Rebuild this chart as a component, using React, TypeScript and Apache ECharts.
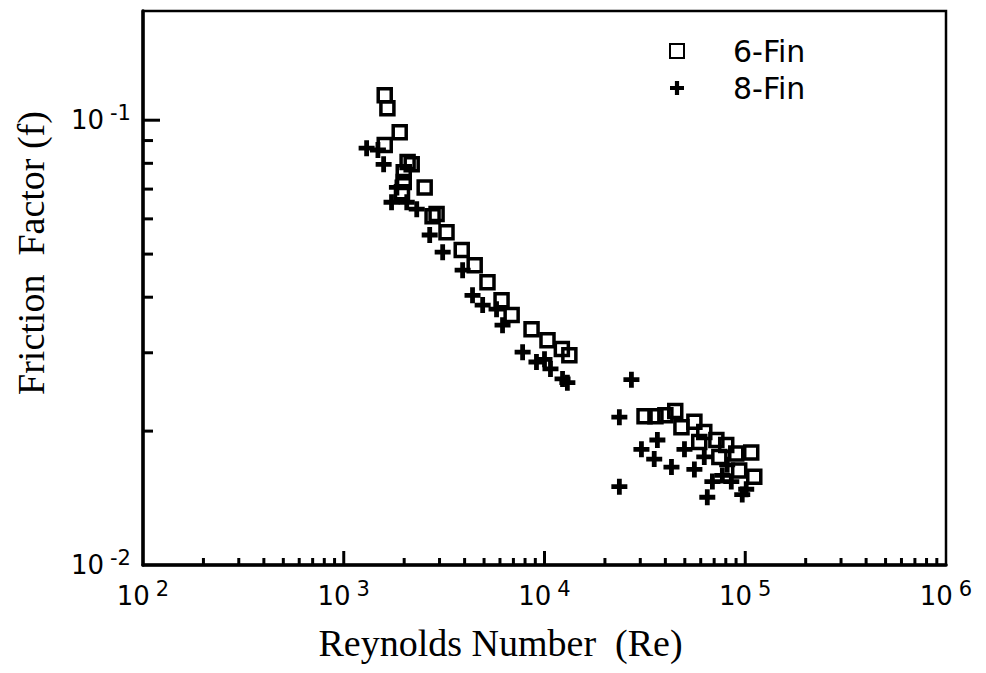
import React, { useEffect, useRef } from "react";
import * as echarts from "echarts";

// 6-Fin (squares): Reynolds number and friction factor
const sixFinRe = [1600, 1650, 1900, 1600, 2080, 2180, 1990, 1990, 2530, 1950, 2900, 2770, 3250, 3870, 4490, 5200, 6110, 6860, 8620, 10350, 12200, 13300, 31500, 35700, 40000, 44800, 48100, 55800, 62500, 71800, 80400, 90200, 107100, 110900, 93300, 59000, 74300];
const sixFinF = [0.1138, 0.1064, 0.094, 0.0879, 0.0805, 0.0796, 0.0764, 0.0726, 0.0706, 0.0689, 0.0615, 0.0608, 0.056, 0.0511, 0.0472, 0.0432, 0.0394, 0.0365, 0.0339, 0.032, 0.0306, 0.0296, 0.0216, 0.0216, 0.0217, 0.0222, 0.0204, 0.021, 0.0199, 0.0191, 0.0186, 0.0178, 0.0179, 0.0158, 0.0163, 0.0189, 0.0175];

// 8-Fin (plus signs)
const eightFinRe = [1300, 1480, 1580, 1840, 1730, 2060, 2310, 2680, 3110, 3910, 4380, 4920, 5770, 6180, 7780, 9120, 10710, 12300, 13000, 10000, 27100, 23600, 23600, 30400, 36500, 35200, 42900, 49800, 55800, 62500, 68600, 64700, 76900, 85200, 96600, 81300, 101100];
const eightFinF = [0.0865, 0.0857, 0.0796, 0.0706, 0.0654, 0.0654, 0.0631, 0.0552, 0.0505, 0.046, 0.0404, 0.0384, 0.0376, 0.0346, 0.0301, 0.0286, 0.0276, 0.0262, 0.0257, 0.029, 0.0261, 0.0215, 0.015, 0.0182, 0.0191, 0.0173, 0.0166, 0.0182, 0.0164, 0.0175, 0.0154, 0.0142, 0.0159, 0.0154, 0.0144, 0.0168, 0.0148];

// axis ranges and tick marks
const xRange = [100, 1000000];
const yRange = [0.01, 0.176];
const xMinorTicks = [200, 300, 400, 500, 600, 700, 800, 900, 2000, 3000, 4000, 5000, 6000, 7000, 8000, 9000, 20000, 30000, 40000, 50000, 60000, 70000, 80000, 90000, 200000, 300000, 400000, 500000, 600000, 700000, 800000, 900000];
const xMajorTicks = [1000, 10000, 100000];
const yMinorTicks = [0.02, 0.03, 0.04, 0.05, 0.06, 0.07, 0.08, 0.09];
const yMajorTicks = [0.1];

const seriesNames = ["6-Fin", "8-Fin"];

const PLUS = "path://M5.6,0h4.8v5.6h5.6v4.8h-5.6v5.6h-4.8v-5.6h-5.6v-4.8h5.6z";

export default function App() {
  const ref = useRef<HTMLDivElement>(null);
  useEffect(() => {
    const chart = echarts.init(ref.current!, null, { renderer: "svg" });
    const fmt = (v: number) => `{b|10}{s|${Math.round(Math.log10(v))}}`;
    const rich = {
      b: { fontFamily: "DejaVu Sans", fontSize: 26, color: "#000" },
      s: { fontFamily: "DejaVu Sans", fontSize: 21, color: "#000", padding: [0, 0, 15, 6] },
    };
    const tickRender = (vertical: boolean) => (params: any, api: any) => {
      const p = api.coord([api.value(0), api.value(1)]);
      const len = api.value(2);
      return {
        type: "line",
        shape: vertical
          ? { x1: p[0], y1: p[1], x2: p[0], y2: p[1] - len }
          : { x1: p[0], y1: p[1], x2: p[0] + len, y2: p[1] },
        style: { stroke: "#000", lineWidth: 3 },
      };
    };
    const option: any = {
      animation: false,
      backgroundColor: "#fff",
      grid: {
        left: 143,
        top: 11,
        right: 40,
        bottom: 108,
        show: true,
        borderColor: "#000",
        borderWidth: 2.5,
      },
      legend: {
        data: seriesNames,
        orient: "vertical",
        left: 664,
        top: 31,
        itemWidth: 14,
        itemHeight: 14,
        itemGap: 7,
        textStyle: {
          fontFamily: "DejaVu Sans",
          fontSize: 30,
          color: "#000",
          lineHeight: 30,
          padding: [0, 0, 0, 44],
        },
      },
      xAxis: {
        type: "log",
        logBase: 10,
        min: xRange[0],
        max: xRange[1],
        name: "Reynolds Number  (Re)",
        nameLocation: "middle",
        nameGap: 59,
        nameTextStyle: {
          fontFamily: "Liberation Serif",
          fontSize: 38,
          color: "#000",
          padding: [0, 88, 0, 0],
        },
        axisLine: { show: true, lineStyle: { color: "#000", width: 3.5 } },
        axisTick: { show: false },
        splitLine: { show: false },
        axisLabel: { formatter: fmt, rich, margin: 13 },
      },
      yAxis: {
        type: "log",
        logBase: 10,
        min: yRange[0],
        max: yRange[1],
        name: "Friction  Factor (f)",
        nameLocation: "middle",
        nameRotate: 90,
        nameGap: 93,
        nameTextStyle: {
          fontFamily: "Liberation Serif",
          fontSize: 38,
          color: "#000",
          padding: [0, 0, 0, 70],
        },
        axisLine: { show: true, lineStyle: { color: "#000", width: 3.5 } },
        axisTick: { show: false },
        splitLine: { show: false },
        axisLabel: { formatter: fmt, rich, margin: 12, showMaxLabel: false },
      },
      series: [
        {
          name: seriesNames[0],
          type: "scatter",
          symbol: "rect",
          symbolSize: 13,
          itemStyle: { color: "rgba(0,0,0,0)", borderColor: "#000", borderWidth: 3.5, opacity: 1 },
          data: sixFinRe.map((r, i) => [r, sixFinF[i]]),
          z: 3,
        },
        {
          name: seriesNames[1],
          type: "scatter",
          symbol: PLUS,
          symbolSize: 16,
          itemStyle: { color: "#000", opacity: 1 },
          data: eightFinRe.map((r, i) => [r, eightFinF[i]]),
          z: 3,
        },
        {
          name: "xticks",
          type: "custom",
          silent: true,
          clip: false,
          renderItem: tickRender(true),
          data: [
            ...xMinorTicks.map((v) => [v, yRange[0], 7]),
            ...xMajorTicks.map((v) => [v, yRange[0], 14]),
          ],
          z: 4,
        },
        {
          name: "yticks",
          type: "custom",
          silent: true,
          clip: false,
          renderItem: tickRender(false),
          data: [
            ...yMinorTicks.map((v) => [xRange[0], v, 10]),
            ...yMajorTicks.map((v) => [xRange[0], v, 17]),
          ],
          z: 4,
        },
      ],
    };
    chart.setOption(option);
    return () => chart.dispose();
  }, []);
  return (
    <div
      ref={ref}
      style={{ position: "fixed", left: 0, top: 0, width: 986, height: 673 }}
    />
  );
}
